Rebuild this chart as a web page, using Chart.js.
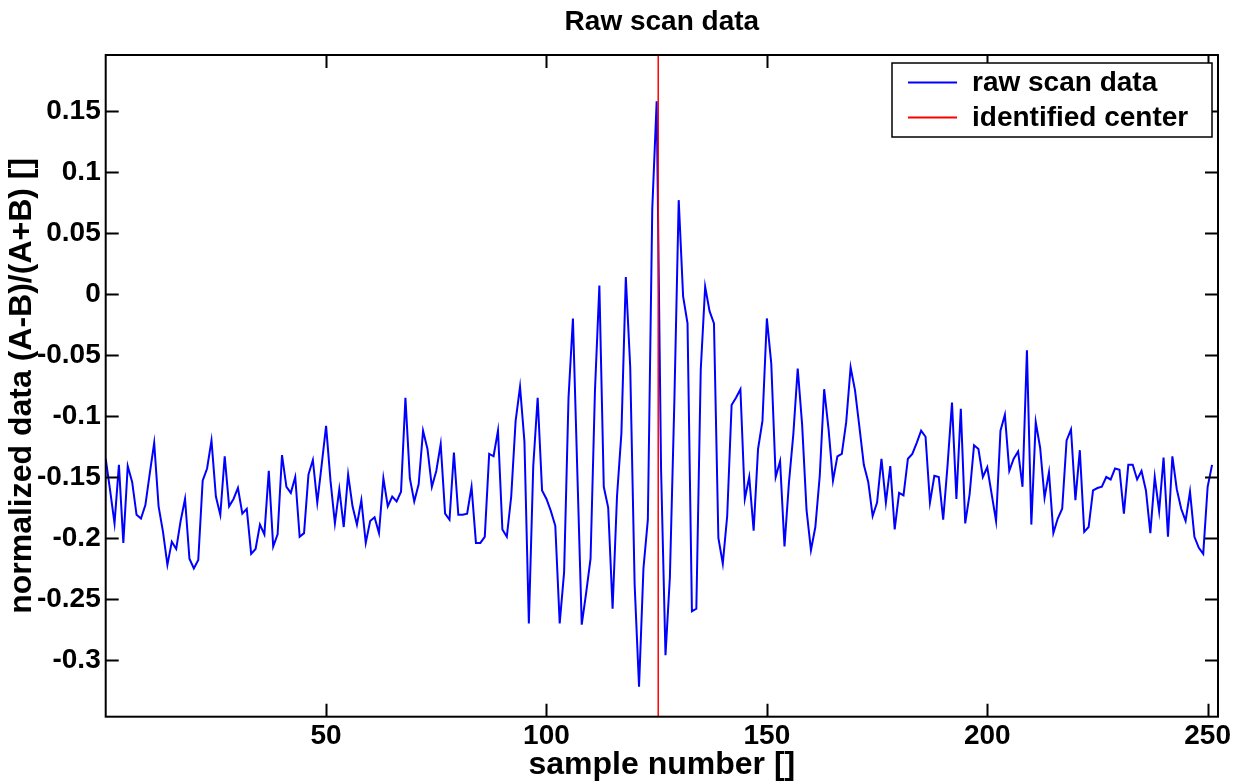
<!DOCTYPE html>
<html><head><meta charset="utf-8">
<script src="https://cdn.jsdelivr.net/npm/chart.js@4/dist/chart.umd.min.js"></script>
<style>html,body{margin:0;padding:0;background:#fff;overflow:hidden}</style>
</head><body>
<canvas id="c" width="1246" height="781"></canvas>
<script>
// ---- data ----
const firstSample = 0;
const rawScanValues = [
 -0.135,-0.161,-0.188,-0.140,-0.204,-0.141,-0.154,-0.181,-0.184,-0.173,
 -0.147,-0.122,-0.174,-0.195,-0.222,-0.203,-0.209,-0.186,-0.168,-0.217,
 -0.225,-0.218,-0.153,-0.143,-0.120,-0.166,-0.181,-0.133,-0.174,-0.168,
 -0.159,-0.180,-0.176,-0.213,-0.209,-0.189,-0.197,-0.145,-0.207,-0.197,
 -0.132,-0.158,-0.163,-0.150,-0.199,-0.196,-0.148,-0.136,-0.171,-0.140,
 -0.108,-0.153,-0.188,-0.160,-0.191,-0.148,-0.174,-0.189,-0.169,-0.204,
 -0.186,-0.183,-0.196,-0.151,-0.174,-0.166,-0.170,-0.162,-0.085,-0.151,
 -0.170,-0.156,-0.112,-0.127,-0.158,-0.145,-0.123,-0.180,-0.185,-0.130,
 -0.181,-0.181,-0.180,-0.158,-0.204,-0.204,-0.199,-0.131,-0.133,-0.112,
 -0.193,-0.199,-0.166,-0.104,-0.076,-0.121,-0.270,-0.141,-0.085,-0.161,
 -0.168,-0.178,-0.190,-0.270,-0.228,-0.085,-0.020,-0.146,-0.271,-0.245,
 -0.217,-0.079, 0.007,-0.158,-0.175,-0.258,-0.166,-0.114, 0.014,-0.060,
 -0.238,-0.322,-0.225,-0.185, 0.070, 0.158,-0.144,-0.296,-0.232,-0.090,
  0.077,-0.002,-0.024,-0.260,-0.258,-0.062, 0.006,-0.014,-0.024,-0.200,
 -0.221,-0.182,-0.091,-0.085,-0.078,-0.168,-0.150,-0.194,-0.127,-0.104,
 -0.020,-0.057,-0.150,-0.137,-0.207,-0.155,-0.115,-0.061,-0.107,-0.177,
 -0.210,-0.191,-0.149,-0.078,-0.111,-0.153,-0.133,-0.131,-0.105,-0.060,
 -0.079,-0.109,-0.140,-0.154,-0.182,-0.171,-0.135,-0.171,-0.141,-0.193,
 -0.163,-0.165,-0.135,-0.131,-0.122,-0.112,-0.117,-0.171,-0.149,-0.150,
 -0.185,-0.140,-0.089,-0.168,-0.094,-0.188,-0.164,-0.124,-0.127,-0.150,
 -0.142,-0.164,-0.186,-0.112,-0.099,-0.145,-0.135,-0.129,-0.158,-0.046,
 -0.189,-0.105,-0.126,-0.167,-0.146,-0.196,-0.184,-0.176,-0.120,-0.111,
 -0.169,-0.128,-0.195,-0.191,-0.161,-0.159,-0.158,-0.150,-0.152,-0.143,
 -0.144,-0.180,-0.140,-0.140,-0.152,-0.145,-0.161,-0.196,-0.150,-0.178,
 -0.134,-0.199,-0.133,-0.160,-0.176,-0.186,-0.162,-0.199,-0.208,-0.213,
 -0.158,-0.140
];
const identifiedCenter = 125.35;
const xLimits = [0, 252.35];
const yLimits = [-0.3465, 0.196];
const xTickValues = [50, 100, 150, 200, 250];
const xTickLabels = ['50', '100', '150', '200', '250'];
const yTickValues = [-0.3, -0.25, -0.2, -0.15, -0.1, -0.05, 0, 0.05, 0.1, 0.15];
const yTickLabels = ['-0.3', '-0.25', '-0.2', '-0.15', '-0.1', '-0.05', '0', '0.05', '0.1', '0.15'];
const seriesNames = ['raw scan data', 'identified center'];
const seriesColors = ['#0000ff', '#ff0000'];
const chartTitle = 'Raw scan data';
const xAxisTitle = 'sample number []';
const yAxisTitle = 'normalized data (A-B)/(A+B) []';

// ---- build datasets ----
const rawPoints = rawScanValues.map((v, i) => ({x: firstSample + i, y: v}));
const centerPoints = [{x: identifiedCenter, y: yLimits[0]}, {x: identifiedCenter, y: yLimits[1]}];

const FONT = '"Liberation Sans", Arial, Helvetica, sans-serif';

const framePlugin = {
  id: 'matlabFrame',
  afterDatasetsDraw(chart) {
    const {ctx, chartArea: a, scales} = chart;
    ctx.save();
    ctx.strokeStyle = '#000';
    ctx.lineWidth = 2;
    ctx.beginPath();
    const tl = 13;
    xTickValues.forEach(v => {
      const p = Math.round(scales.x.getPixelForValue(v)) + 0.5;
      ctx.moveTo(p, a.bottom); ctx.lineTo(p, a.bottom - tl);
      ctx.moveTo(p, a.top); ctx.lineTo(p, a.top + tl);
    });
    yTickValues.forEach(v => {
      const p = Math.round(scales.y.getPixelForValue(v)) + 0.5;
      ctx.moveTo(a.left, p); ctx.lineTo(a.left + tl, p);
      ctx.moveTo(a.right, p); ctx.lineTo(a.right - tl, p);
    });
    ctx.stroke();
    ctx.strokeRect(a.left, a.top, a.right - a.left, a.bottom - a.top);
    ctx.restore();
  },
  afterDraw(chart) {
    const {ctx, chartArea: a} = chart;
    ctx.save();
    // title centred over the plot box
    ctx.fillStyle = '#000';
    ctx.font = 'bold 28px ' + FONT;
    ctx.textAlign = 'center';
    ctx.textBaseline = 'middle';
    ctx.fillText(chartTitle, (a.left + a.right) / 2, 22);
    // legend box
    const w = 320, h = 74;
    const x0 = a.right - 6 - w, y0 = a.top + 8;
    ctx.fillStyle = '#fff';
    ctx.fillRect(x0, y0, w, h);
    ctx.strokeStyle = '#000';
    ctx.lineWidth = 1.5;
    ctx.strokeRect(x0, y0, w, h);
    ctx.textBaseline = 'middle';
    ctx.textAlign = 'left';
    const rows = [19.5, 54.5];
    seriesNames.forEach((name, i) => {
      const y = y0 + rows[i];
      ctx.strokeStyle = seriesColors[i];
      ctx.lineWidth = 2;
      ctx.beginPath();
      ctx.moveTo(x0 + 16, y); ctx.lineTo(x0 + 65, y);
      ctx.stroke();
      ctx.fillStyle = '#000';
      ctx.fillText(name, x0 + 80, y + 1);
    });
    ctx.restore();
  }
};

new Chart(document.getElementById('c'), {
  type: 'line',
  data: {
    datasets: [
      {label: seriesNames[0], data: rawPoints, borderColor: seriesColors[0], borderWidth: 2,
       pointRadius: 0, tension: 0, fill: false, order: 1},
      {label: seriesNames[1], data: centerPoints, borderColor: seriesColors[1], borderWidth: 1.5,
       pointRadius: 0, tension: 0, fill: false, order: 0}
    ]
  },
  options: {
    responsive: false,
    devicePixelRatio: 1,
    animation: false,
    events: [],
    layout: {padding: {left: 0, right: 28, top: 55, bottom: 0}},
    plugins: {
      legend: {display: false},
      tooltip: {enabled: false},
      title: {display: false}
    },
    scales: {
      x: {
        type: 'linear', min: xLimits[0], max: xLimits[1],
        grid: {display: false, drawTicks: false},
        border: {display: false},
        afterBuildTicks: s => { s.ticks = xTickValues.map(v => ({value: v})); },
        afterFit: s => { s.height = 64.3; },
        ticks: {color: '#000', padding: 3, maxRotation: 0, autoSkip: false,
                font: {family: FONT, size: 28, weight: 'bold'},
                callback: (v, i) => xTickLabels[i]},
        title: {display: true, text: xAxisTitle, color: '#000',
                font: {family: FONT, size: 32, weight: 'bold'}, padding: {top: 0, bottom: -3}}
      },
      y: {
        type: 'linear', min: yLimits[0], max: yLimits[1],
        grid: {display: false, drawTicks: false},
        border: {display: false},
        afterBuildTicks: s => { s.ticks = yTickValues.map(v => ({value: v})); },
        afterFit: s => { s.width = 105.7; },
        ticks: {color: '#000', padding: 5, autoSkip: false,
                font: {family: FONT, size: 28, weight: 'bold'},
                callback: (v, i) => yTickLabels[i]},
        title: {display: true, text: yAxisTitle, color: '#000',
                font: {family: FONT, size: 32, weight: 'bold'}, padding: {top: 3, bottom: 0}}
      }
    }
  },
  plugins: [framePlugin]
});
</script>
</body></html>
